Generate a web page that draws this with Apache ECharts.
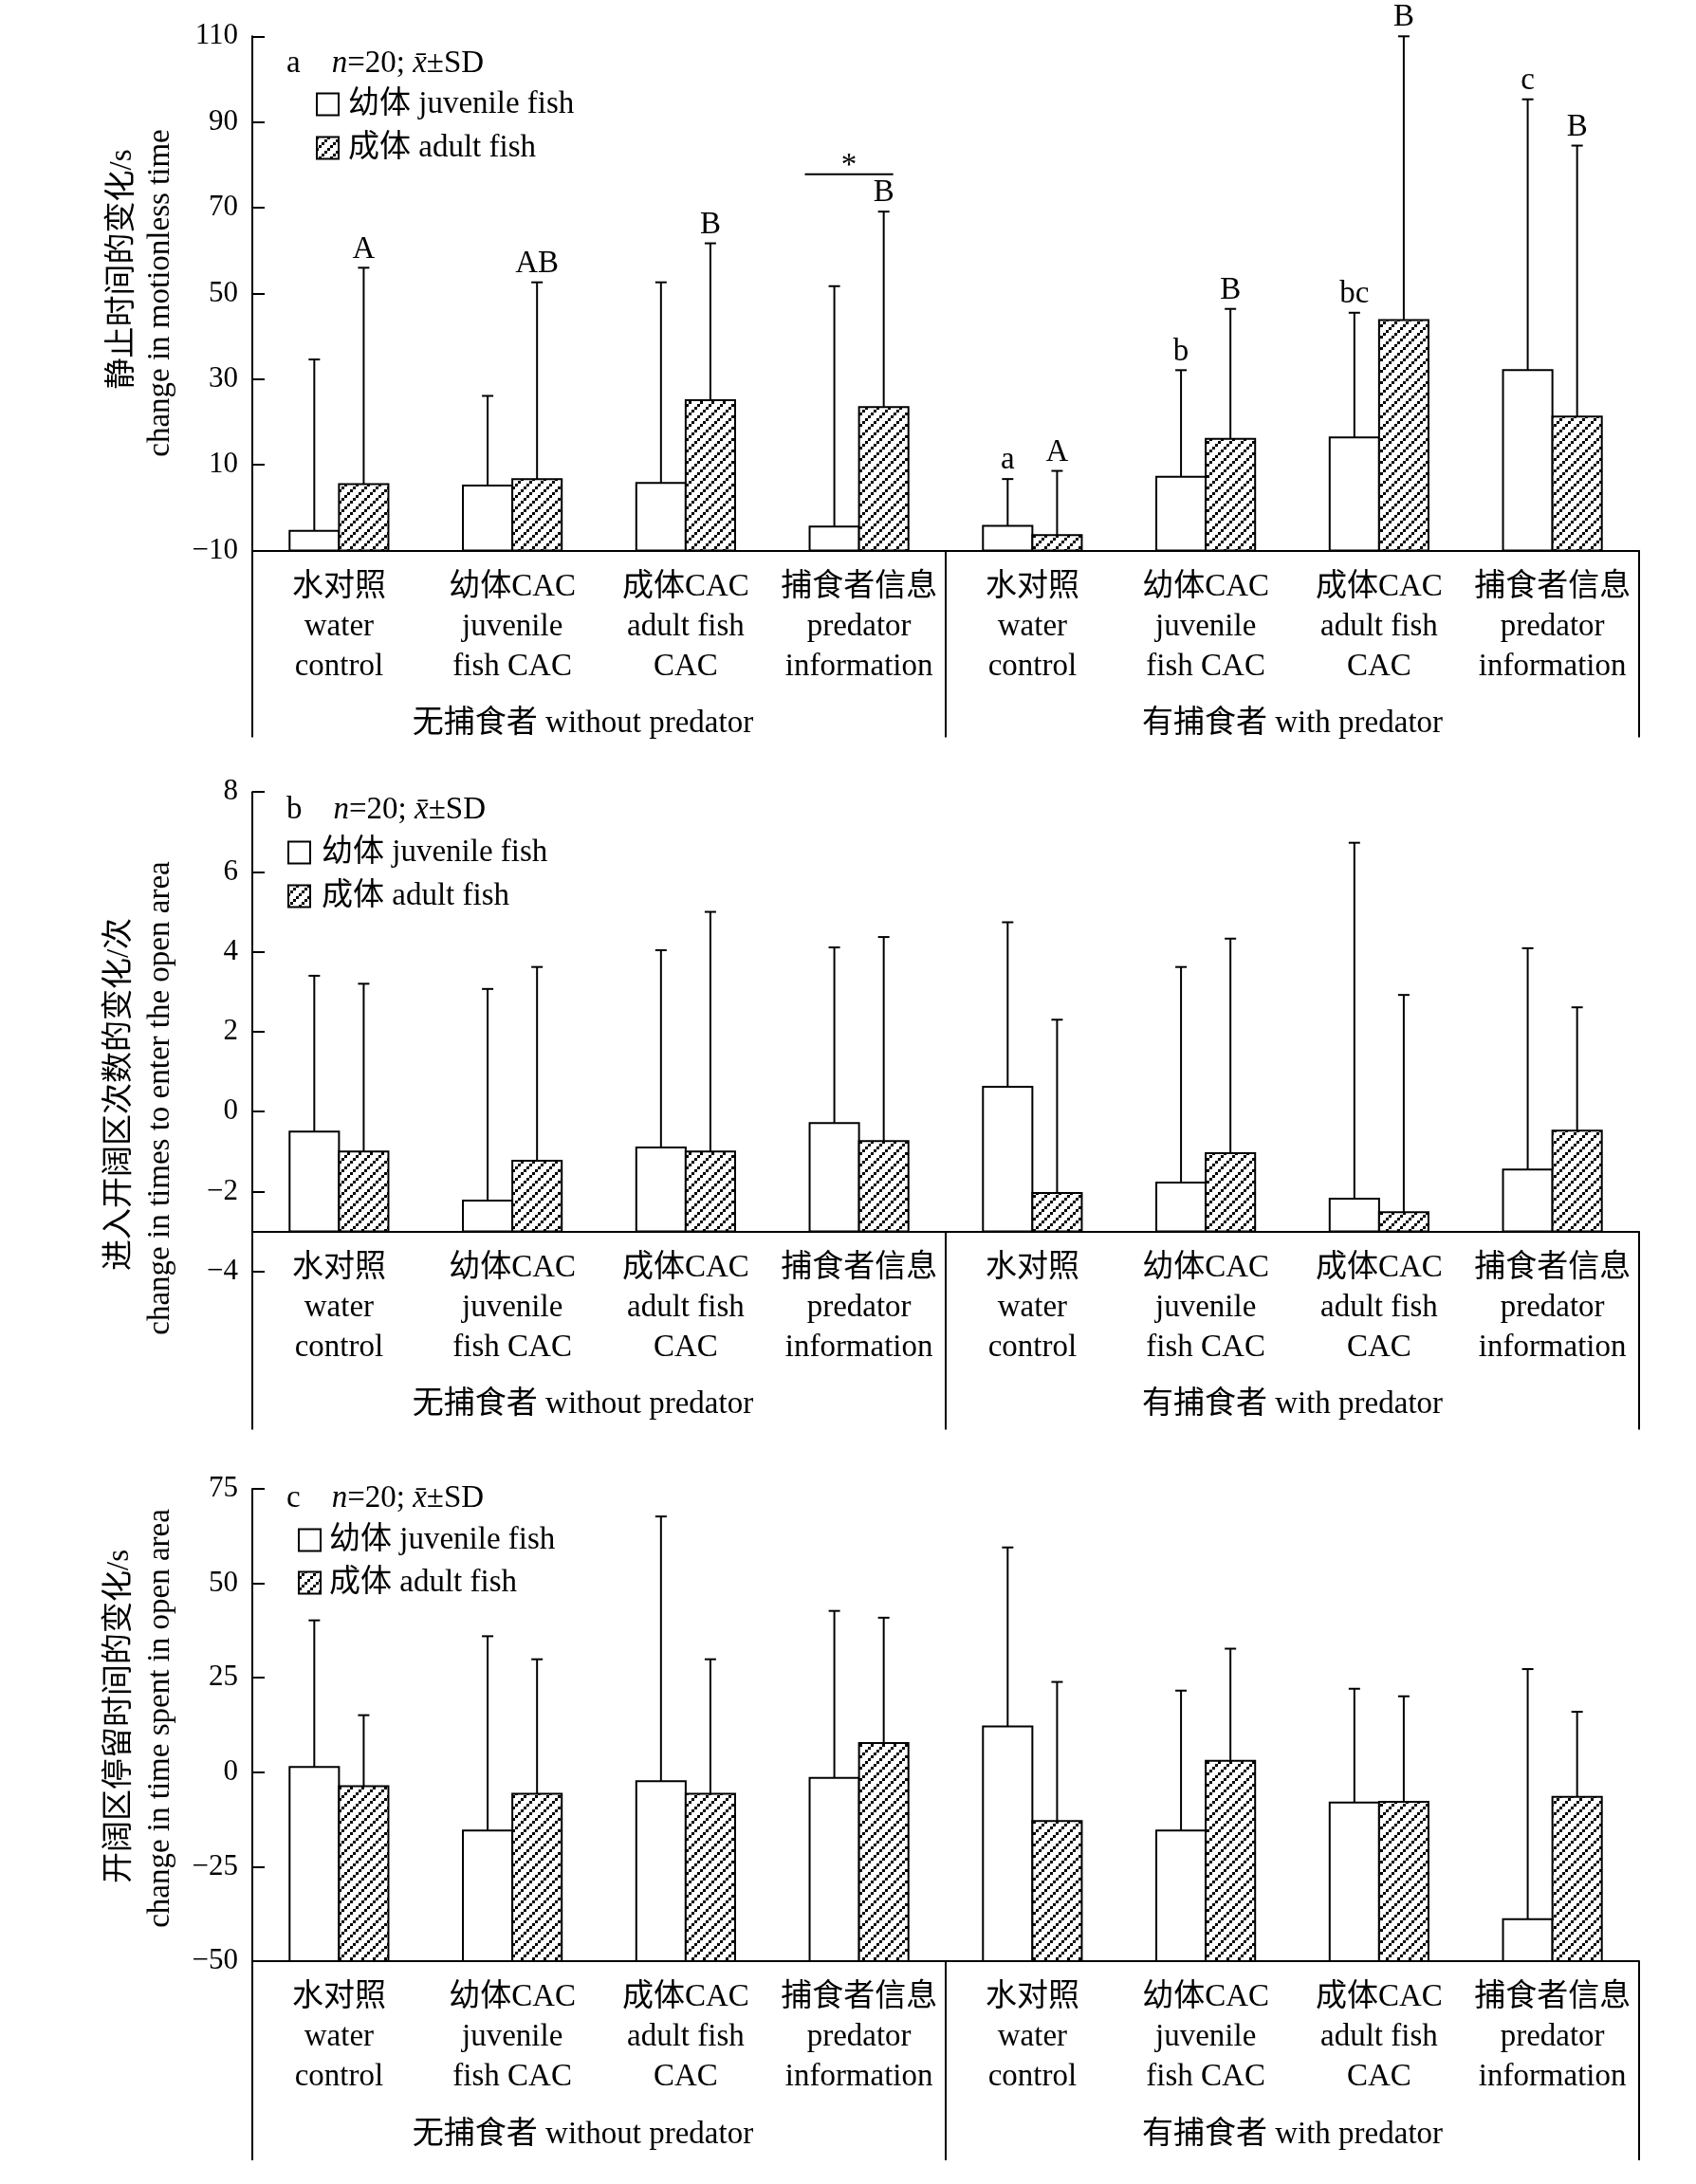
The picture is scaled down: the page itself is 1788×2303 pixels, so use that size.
<!DOCTYPE html>
<html>
<head>
<meta charset="utf-8">
<script src="https://cdn.jsdelivr.net/npm/echarts@6/dist/echarts.min.js"></script>
<style>
html,body{margin:0;padding:0;background:#fff;}
#chart{width:1788px;height:2303px;}
</style>
</head>
<body>
<div id="chart"></div>
<script>
// ---------------- data ----------------
const treatments = ['水对照\nwater\ncontrol', '幼体CAC\njuvenile\nfish CAC', '成体CAC\nadult fish\nCAC', '捕食者信息\npredator\ninformation'];
const categories = treatments.concat(treatments);
const groups = ['无捕食者 without predator', '有捕食者 with predator'];
const seriesNames = ['幼体 juvenile fish', '成体 adult fish'];

// a: change in motionless time (s)
const motionJuvMean = [-5.4, 5.2, 5.8, -4.4, -4.2, 7.2, 16.4, 32.1];
const motionJuvSD   = [40.0, 20.9, 46.8, 56.1, 10.9, 24.9, 29.1, 63.2];
const motionAdMean  = [5.5, 6.7, 25.1, 23.5, -6.4, 16.1, 43.8, 21.3];
const motionAdSD    = [50.5, 45.9, 36.6, 45.6, 15.0, 30.3, 66.2, 63.2];
const motionJuvLetters = ['', '', '', '', 'a', 'b', 'bc', 'c'];
const motionAdLetters  = ['A', 'AB', 'B', 'B', 'A', 'B', 'B', 'B'];
const motionSignif = {index: 3, level: 77.8, mark: '*'};
const motionTicks = [-10, 10, 30, 50, 70, 90, 110];

// b: change in times to enter the open area
const entryJuvMean = [-0.5, -2.23, -0.9, -0.29, 0.62, -1.78, -2.18, -1.45];
const entryJuvSD   = [3.9, 5.3, 4.94, 4.4, 4.12, 5.4, 8.91, 5.54];
const entryAdMean  = [-1.0, -1.23, -1.0, -0.74, -2.04, -1.04, -2.52, -0.48];
const entryAdSD    = [4.2, 4.85, 6.0, 5.11, 4.34, 5.37, 5.44, 3.09];
const entryTicks = [-4, -2, 0, 2, 4, 6, 8];

// c: change in time spent in open area (s)
const openJuvMean = [1.4, -15.4, -2.4, -1.5, 12.1, -15.4, -8.0, -38.9];
const openJuvSD   = [38.8, 51.4, 70.1, 44.2, 47.4, 37.0, 30.1, 66.2];
const openAdMean  = [-3.7, -5.7, -5.7, 7.7, -12.9, 3.0, -7.8, -6.5];
const openAdSD    = [18.8, 35.6, 35.6, 33.2, 36.8, 29.7, 27.9, 22.5];
const openTicks = [-50, -25, 0, 25, 50, 75];

// ---------------- layout / style ----------------
const FONT = "'Liberation Serif','Times New Roman','Noto Sans CJK SC',serif";
const BAR_FRAC = 0.285;
const panels = [
  {letter:'a', top:38.3, height:542.3, min:-10, max:110, base:-10, ticks:motionTicks,
   juv:[motionJuvMean, motionJuvSD, motionJuvLetters], ad:[motionAdMean, motionAdSD, motionAdLetters], signif: motionSignif,
   groupTick:197, titles:[['静止时间的变化/s',129,284],['change in motionless time',169,309]],
   legend:{title:67, row1:110, row2:156, box:334, text:367}},
  {letter:'b', top:835.2, height:505.4, min:-4, max:8, base:-3, ticks:entryTicks,
   juv:[entryJuvMean, entryJuvSD, null], ad:[entryAdMean, entryAdSD, null], signif:null,
   groupTick:209, titles:[['进入开阔区次数的变化/次',126,1154],['change in times to enter the open area',169,1158]],
   legend:{title:854, row1:899, row2:945, box:304, text:339}},
  {letter:'c', top:1570, height:498, min:-50, max:75, base:-50, ticks:openTicks,
   juv:[openJuvMean, openJuvSD, null], ad:[openAdMean, openAdSD, null], signif:null,
   groupTick:210, titles:[['开阔区停留时间的变化/s',126,1810],['change in time spent in open area',169,1812]],
   legend:{title:1580, row1:1624, row2:1669, box:315, text:347}}
];

// hatch pattern (dotted diagonal "/" lines)
const pc = document.createElement('canvas');
pc.width = 12; pc.height = 12;
(function(){
  const g = pc.getContext('2d');
  g.fillStyle = '#fff'; g.fillRect(0,0,12,12);
  g.fillStyle = '#000';
  for (let k = 0; k < 4; k++) g.fillRect(k*3, 9 - k*3, 3, 3);
})();
const hatch = {image: pc, repeat: 'repeat'};

const chart = echarts.init(document.getElementById('chart'), null, {renderer:'canvas'});

const grids = [], xAxes = [], yAxes = [], series = [], graphics = [];
const fmtMinus = v => String(v).replace('-', '\u2212');
const groupData = groups.map((g, i) => i === 0 ? {value:g, textStyle:{padding:[0,34,0,0]}} : g);

panels.forEach((p, pi) => {
  grids.push({left:266, right:60, top:p.top, height:p.height});
  const xOffset = -p.height * (p.base - p.min) / (p.max - p.min);
  xAxes.push({
    type:'category', gridIndex:pi, position:'bottom', offset:xOffset, data:categories,
    axisLine:{show:true, onZero:false, lineStyle:{color:'#000', width:2}},
    axisTick:{show:false},
    axisLabel:{interval:0, color:'#000', fontFamily:FONT, fontSize:33, lineHeight:42, margin:17.5}
  });
  xAxes.push({
    type:'category', gridIndex:pi, position:'bottom', offset:xOffset, data:groupData,
    axisLine:{show:false, onZero:false},
    axisTick:{show:true, length:p.groupTick, lineStyle:{color:'#000', width:2}},
    axisLabel:{interval:0, color:'#000', fontFamily:FONT, fontSize:33, lineHeight:36, margin:165}
  });
  yAxes.push({
    type:'value', gridIndex:pi, min:p.min, max:p.max,
    axisLine:{show:true, lineStyle:{color:'#000', width:2}},
    axisTick:{show:true, inside:true, length:13, customValues:p.ticks, lineStyle:{color:'#000', width:2}},
    axisLabel:{color:'#000', fontFamily:FONT, fontSize:31, margin:15, customValues:p.ticks, formatter:fmtMinus},
    splitLine:{show:false}
  });

  [[p.juv, -1, '#fff', seriesNames[0]], [p.ad, 1, hatch, seriesNames[1]]].forEach(([arr, side, fill, nm]) => {
    const means = arr[0], sds = arr[1], letters = arr[2];
    series.push({
      type:'custom', name:nm, xAxisIndex:pi*2, yAxisIndex:pi, clip:false, silent:true,
      data: means.map((m, i) => [i, m, sds[i]]),
      renderItem: (params, api) => {
        const i = api.value(0), m = api.value(1), sd = api.value(2);
        const c = api.coord([i, m]);
        const b = api.coord([i, p.base]);
        const t = api.coord([i, m + sd]);
        const bw = api.size([1, 0])[0] * BAR_FRAC;
        const x0 = side < 0 ? c[0] - bw : c[0];
        const cx = x0 + bw / 2;
        const children = [
          {type:'line', shape:{x1:cx, y1:c[1], x2:cx, y2:t[1]}, style:{stroke:'#000', lineWidth:2}},
          {type:'line', shape:{x1:cx-6, y1:t[1], x2:cx+6, y2:t[1]}, style:{stroke:'#000', lineWidth:2}},
          {type:'rect', shape:{x:x0, y:c[1], width:bw, height:b[1]-c[1]}, style:{fill:fill, stroke:'#000', lineWidth:2}}
        ];
        const L = letters ? letters[i] : '';
        if (L) children.push({type:'text', style:{text:L, x:cx, y:t[1]-3, align:'center', verticalAlign:'bottom', fontFamily:FONT, fontSize:33, fill:'#000'}});
        return {type:'group', children};
      }
    });
  });

  if (p.signif) {
    const s = p.signif;
    series.push({
      type:'custom', xAxisIndex:pi*2, yAxisIndex:pi, clip:false, silent:true,
      data:[[s.index, s.level]],
      renderItem: (params, api) => {
        const c = api.coord([api.value(0), api.value(1)]);
        const bw = api.size([1, 0])[0] * BAR_FRAC;
        const xa = c[0] - bw - 5, xb = c[0] + bw / 2 + 10;
        return {type:'group', children:[
          {type:'line', shape:{x1:xa, y1:c[1], x2:xb, y2:c[1]}, style:{stroke:'#000', lineWidth:2}},
          {type:'text', style:{text:s.mark, x:(xa+xb)/2, y:c[1]-8, align:'center', verticalAlign:'middle', fontFamily:FONT, fontSize:33, fill:'#000'}}
        ]};
      }
    });
  }

  // legend (drawn as decoration)
  const lg = p.legend;
  graphics.push({type:'text', x:302, y:lg.title, style:{text:p.letter + '    {it|n}=20; {it|x\u0304}\u00b1SD', verticalAlign:'middle', fontFamily:FONT, fontSize:33, fill:'#000',
    rich:{it:{fontStyle:'italic', fontFamily:FONT, fontSize:33, fill:'#000'}}}});
  graphics.push({type:'rect', shape:{x:lg.box, y:lg.row1-11.5, width:23, height:23}, style:{fill:'#fff', stroke:'#000', lineWidth:2}});
  graphics.push({type:'rect', shape:{x:lg.box, y:lg.row2-11.5, width:23, height:23}, style:{fill:hatch, stroke:'#000', lineWidth:2}});
  graphics.push({type:'text', x:lg.text, y:lg.row1, style:{text:seriesNames[0], verticalAlign:'middle', fontFamily:FONT, fontSize:33, fill:'#000'}});
  graphics.push({type:'text', x:lg.text, y:lg.row2, style:{text:seriesNames[1], verticalAlign:'middle', fontFamily:FONT, fontSize:33, fill:'#000'}});
  // y titles
  p.titles.forEach(([txt, x, y]) => {
    graphics.push({type:'text', x:x, y:y, rotation:Math.PI/2, style:{text:txt, align:'center', verticalAlign:'middle', fontFamily:FONT, fontSize:33, fill:'#000'}});
  });
});

chart.setOption({
  backgroundColor:'#fff',
  animation:false,
  textStyle:{fontFamily:FONT, color:'#000'},
  grid:grids, xAxis:xAxes, yAxis:yAxes, series:series, graphic:graphics
});
</script>
</body>
</html>
